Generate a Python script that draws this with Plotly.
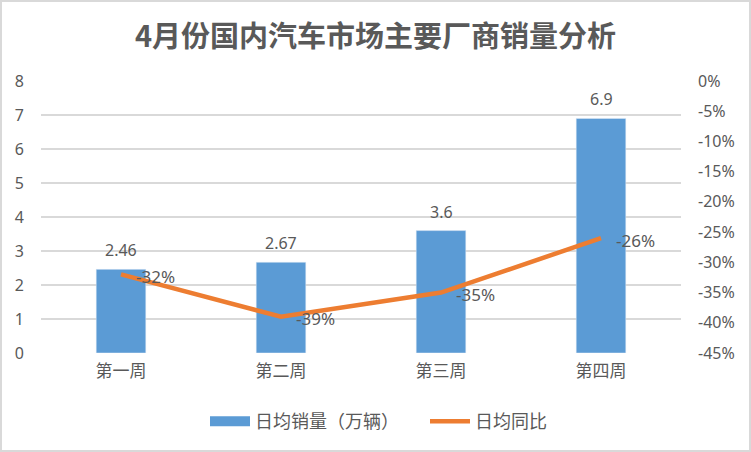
import plotly.graph_objects as go

categories = ["第一周", "第二周", "第三周", "第四周"]
sales = [2.46, 2.67, 3.6, 6.9]
yoy = [-0.32, -0.39, -0.35, -0.26]
sales_labels = ["2.46", "2.67", "3.6", "6.9"]
yoy_labels = ["-32%", "-39%", "-35%", "-26%"]
left_ticks = [0, 1, 2, 3, 4, 5, 6, 7, 8]
right_ticks = [0, -0.05, -0.10, -0.15, -0.20, -0.25, -0.30, -0.35, -0.40, -0.45]
right_ticktext = ["0%", "-5%", "-10%", "-15%", "-20%", "-25%", "-30%", "-35%", "-40%", "-45%"]

NUM = "Noto Sans, sans-serif"
CJK = "Noto Sans CJK SC, sans-serif"
TXT = "#595959"
BLUE = "#5B9BD5"
ORANGE = "#ED7D31"

fig = go.Figure()
fig.add_trace(go.Bar(
    x=categories, y=sales, name="日均销量（万辆）",
    marker=dict(color=BLUE), width=0.31, showlegend=False,
))
# legend entry for the bar series (wide rectangle swatch like the reference)
fig.add_trace(go.Scatter(
    x=[None], y=[None], name="日均销量（万辆）", mode="lines",
    line=dict(color=BLUE, width=10),
))
fig.add_trace(go.Scatter(
    x=categories, y=yoy, name="日均同比", yaxis="y2", mode="lines",
    line=dict(color=ORANGE, width=4.5),
))

for c, v, t in zip(categories, sales, sales_labels):
    fig.add_annotation(x=c, y=v, xref="x", yref="y", text=t, showarrow=False,
                       xanchor="center", yanchor="bottom", yshift=6,
                       font=dict(family=NUM, size=16, color=TXT))
for c, v, t in zip(categories, yoy, yoy_labels):
    fig.add_annotation(x=c, y=v, xref="x", yref="y2", text=t, showarrow=False,
                       xanchor="left", yanchor="middle", xshift=13, yshift=-2,
                       font=dict(family=NUM, size=17, color=TXT))

fig.update_layout(
    width=751, height=452,
    margin=dict(l=41, r=70, t=81, b=99),
    paper_bgcolor="white", plot_bgcolor="white",
    title=dict(text="<b>4月份国内汽车市场主要厂商销量分析</b>", x=0.5, xanchor="center",
               xref="container", yref="container", y=1 - 37 / 452, yanchor="middle",
               font=dict(family=CJK, size=29, color=TXT)),
    xaxis=dict(showgrid=False, showline=False, ticks="", automargin=False,
               ticklabelstandoff=6,
               tickfont=dict(family=CJK, size=17, color=TXT)),
    yaxis=dict(range=[0, 8], tickvals=left_ticks, ticktext=[str(v) for v in left_ticks],
               showgrid=True, gridcolor="#D9D9D9", gridwidth=1.8, zeroline=False,
               showline=False, ticks="", ticklabelstandoff=16, automargin=False,
               tickfont=dict(family=NUM, size=16, color=TXT)),
    yaxis2=dict(range=[-0.45, 0], overlaying="y", side="right", tickvals=right_ticks,
                ticktext=right_ticktext, showgrid=False, zeroline=False, showline=False,
                ticks="", ticklabelstandoff=16, automargin=False,
                tickfont=dict(family=NUM, size=16, color=TXT)),
    legend=dict(orientation="h", x=(205 - 41) / 640, xanchor="left",
                y=(352.7 - 421) / 271.3, yanchor="middle",
                font=dict(family=CJK, size=18, color=TXT),
                traceorder="normal", itemwidth=40, entrywidth=165,
                bgcolor="rgba(0,0,0,0)"),
    showlegend=True,
)
fig.add_shape(type="rect", xref="paper", yref="paper",
              x0=-40 / 640, x1=1 + 69 / 640, y0=-98 / 272, y1=1 + 80 / 272,
              line=dict(color="#D9D9D9", width=2),
              fillcolor="rgba(0,0,0,0)", layer="below")
fig.write_html("out.html", config={"displayModeBar": False},
               post_script="document.body.style.margin='0';document.body.style.padding='0';")
